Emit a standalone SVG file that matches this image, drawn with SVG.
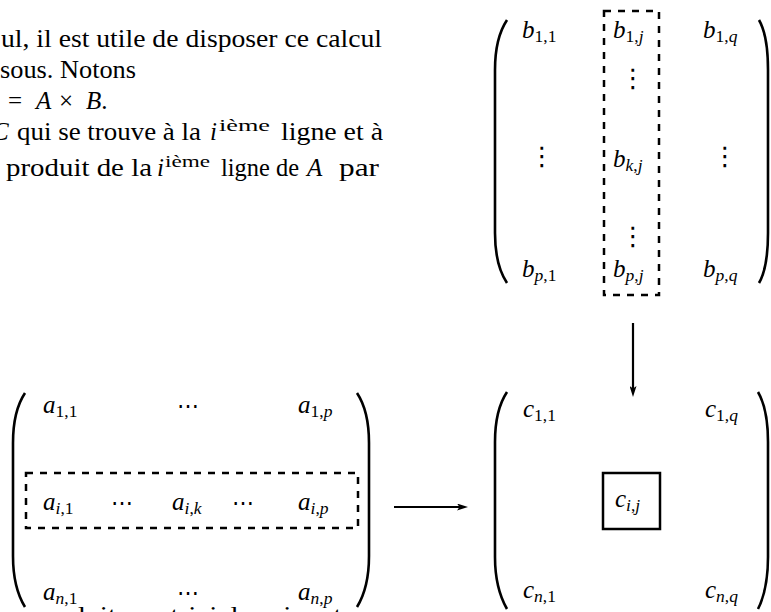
<svg xmlns="http://www.w3.org/2000/svg" width="771" height="612" viewBox="0 0 771 612">
<defs>
<style>
.t { font-family: 'Liberation Serif', serif; font-size: 25px; fill: #000; }
.it { font-style: italic; }
.sb { font-size: 17.5px; }
.vd { font-family: 'DejaVu Sans', sans-serif; font-size: 26px; text-anchor: middle; }
.cd { font-family: 'DejaVu Serif', serif; font-size: 22px; text-anchor: middle; }
.paren { fill: none; stroke: #000; stroke-width: 2.6; }
.dash { fill: none; stroke: #000; stroke-width: 2.5; stroke-dasharray: 7 7; }
.box { fill: none; stroke: #000; stroke-width: 2.5; }
.arr { fill: none; stroke: #000; stroke-width: 2.2; marker-end: url(#ah); }
</style>
<marker id="ah" markerUnits="userSpaceOnUse" markerWidth="11" markerHeight="7" viewBox="0 0 11 7" refX="3" refY="3.5" orient="auto">
<path d="M0,0 L11,3.5 L0,7 L2.5,3.5 z" fill="#000"/>
</marker>
</defs>

<g id="paragraph">
<text class="t" x="1" y="47" textLength="381" lengthAdjust="spacingAndGlyphs">ul, il est utile de disposer ce calcul</text>
<text class="t" x="0" y="78" textLength="136" lengthAdjust="spacingAndGlyphs">sous. Notons</text>
<text class="t" x="8" y="109">=</text>
<text class="t it" x="36" y="109">A</text>
<text class="t" x="59" y="109">×</text>
<text class="t" x="86" y="109"><tspan class="it">B</tspan>.</text>
<text class="t it" x="-8" y="140">C</text>
<text class="t" x="17" y="140" textLength="184" lengthAdjust="spacingAndGlyphs">qui se trouve à la</text>
<text class="t it" x="210" y="140">i</text>
<text class="t sb" x="219" y="131" textLength="51" lengthAdjust="spacingAndGlyphs">ième</text>
<text class="t" x="281" y="140" textLength="102" lengthAdjust="spacingAndGlyphs">ligne et à</text>
<text class="t" x="6" y="176" textLength="146" lengthAdjust="spacingAndGlyphs">produit de la</text>
<text class="t it" x="157" y="176">i</text>
<text class="t sb" x="165" y="167" textLength="45" lengthAdjust="spacingAndGlyphs">ième</text>
<text class="t" x="221" y="176" textLength="78" lengthAdjust="spacingAndGlyphs">ligne de</text>
<text class="t it" x="307" y="176">A</text>
<text class="t" x="339" y="176" textLength="40" lengthAdjust="spacingAndGlyphs">par</text>
<text class="t" x="0" y="624" textLength="353" lengthAdjust="spacingAndGlyphs">es produits matriciels suivants</text>
</g>

<g id="matrixB">
<path class="paren" d="M507,20 C499,32 495,48 495,70 L495,233 C495,255 499,271 507,283"/>
<path class="paren" d="M759,20 C766,32 768,48 768,70 L768,233 C768,255 766,271 759,283"/>
<rect class="dash" x="604" y="11" width="55" height="284"/>
<text class="t" x="522" y="38"><tspan class="it">b</tspan><tspan class="sb" dy="4">1,1</tspan></text>
<text class="t" x="613" y="38"><tspan class="it">b</tspan><tspan class="sb" dy="4">1,</tspan><tspan class="sb it">j</tspan></text>
<text class="t" x="703" y="38"><tspan class="it">b</tspan><tspan class="sb" dy="4">1,</tspan><tspan class="sb it">q</tspan></text>
<text class="vd" x="633" y="87">⋮</text>
<text class="vd" x="542" y="165">⋮</text>
<text class="vd" x="725" y="165">⋮</text>
<text class="vd" x="633" y="245">⋮</text>
<text class="t" x="613" y="167"><tspan class="it">b</tspan><tspan class="sb it" dy="4">k</tspan><tspan class="sb">,</tspan><tspan class="sb it">j</tspan></text>
<text class="t" x="522" y="277"><tspan class="it">b</tspan><tspan class="sb it" dy="4">p</tspan><tspan class="sb">,1</tspan></text>
<text class="t" x="613" y="277"><tspan class="it">b</tspan><tspan class="sb it" dy="4">p</tspan><tspan class="sb">,</tspan><tspan class="sb it">j</tspan></text>
<text class="t" x="703" y="277"><tspan class="it">b</tspan><tspan class="sb it" dy="4">p</tspan><tspan class="sb">,</tspan><tspan class="sb it">q</tspan></text>
</g>

<g id="matrixA">
<path class="paren" d="M25,393 C17,405 13,421 13,443 L13,556 C13,578 17,594 25,607"/>
<path class="paren" d="M357,393 C365,405 369,421 369,443 L369,556 C369,578 365,594 357,607"/>
<rect class="dash" x="26" y="473" width="332" height="55"/>
<text class="t" x="43" y="413"><tspan class="it">a</tspan><tspan class="sb" dy="4">1,1</tspan></text>
<text class="t" x="298" y="413"><tspan class="it">a</tspan><tspan class="sb" dy="4">1,</tspan><tspan class="sb it">p</tspan></text>
<text class="t" x="43" y="510"><tspan class="it">a</tspan><tspan class="sb it" dy="4">i</tspan><tspan class="sb">,1</tspan></text>
<text class="t" x="172" y="510"><tspan class="it">a</tspan><tspan class="sb it" dy="4">i</tspan><tspan class="sb">,</tspan><tspan class="sb it">k</tspan></text>
<text class="t" x="298" y="510"><tspan class="it">a</tspan><tspan class="sb it" dy="4">i</tspan><tspan class="sb">,</tspan><tspan class="sb it">p</tspan></text>
<text class="t" x="43" y="600"><tspan class="it">a</tspan><tspan class="sb it" dy="4">n</tspan><tspan class="sb">,1</tspan></text>
<text class="t" x="298" y="600"><tspan class="it">a</tspan><tspan class="sb it" dy="4">n</tspan><tspan class="sb">,</tspan><tspan class="sb it">p</tspan></text>
<text class="cd" x="188" y="413">⋯</text>
<text class="cd" x="122" y="510">⋯</text>
<text class="cd" x="243" y="510">⋯</text>
<text class="cd" x="188" y="600">⋯</text>
</g>

<g id="matrixC">
<path class="paren" d="M507,392 C499,404 495,420 495,442 L495,557 C495,579 499,595 507,609"/>
<path class="paren" d="M758,392 C765,404 768,420 768,442 L768,557 C768,579 765,595 758,609"/>
<text class="t" x="523" y="417"><tspan class="it">c</tspan><tspan class="sb" dy="4">1,1</tspan></text>
<text class="t" x="705" y="417"><tspan class="it">c</tspan><tspan class="sb" dy="4">1,</tspan><tspan class="sb it">q</tspan></text>
<rect class="box" x="603" y="473" width="57" height="56"/>
<text class="t" x="615" y="507"><tspan class="it">c</tspan><tspan class="sb it" dy="4">i</tspan><tspan class="sb">,</tspan><tspan class="sb it">j</tspan></text>
<text class="t" x="523" y="598"><tspan class="it">c</tspan><tspan class="sb it" dy="4">n</tspan><tspan class="sb">,1</tspan></text>
<text class="t" x="705" y="598"><tspan class="it">c</tspan><tspan class="sb it" dy="4">n</tspan><tspan class="sb">,</tspan><tspan class="sb it">q</tspan></text>
</g>

<g id="connectors">
<line class="arr" x1="633" y1="323" x2="633" y2="389"/>
<line class="arr" x1="394" y1="507" x2="460" y2="507"/>
</g>
</svg>
